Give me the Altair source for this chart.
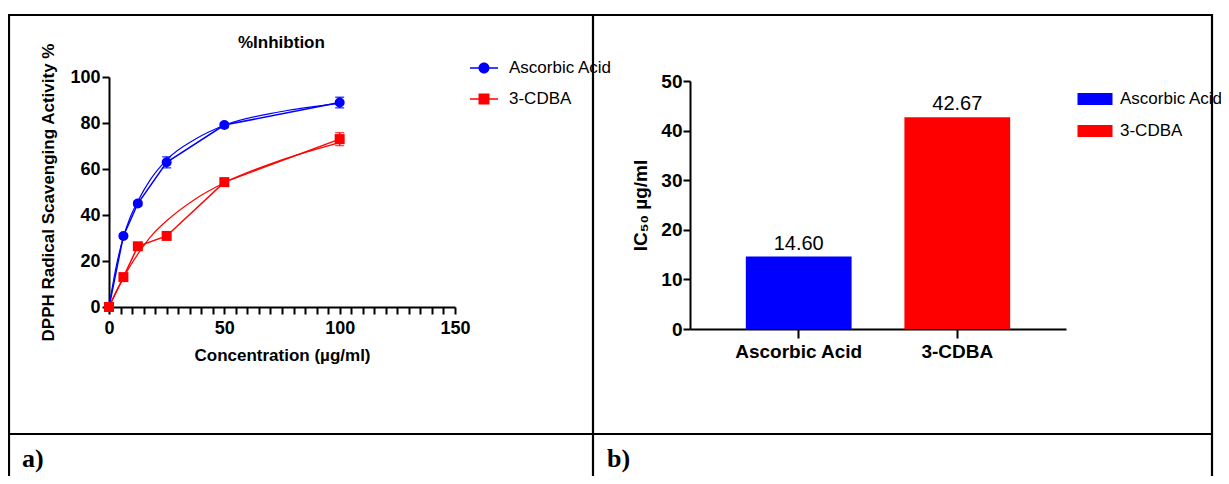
import altair as alt
import pandas as pd

# ---------------- data ----------------
series = ["Ascorbic Acid", "3-CDBA"]
colors = ["#0000FF", "#FF0000"]

conc = [0, 6.25, 12.5, 25, 50, 100]
aa_mean = [0, 30.9, 45.0, 62.9, 79.1, 88.9]
aa_err = [0.6, 0.8, 1.0, 2.4, 1.0, 2.3]
cdba_mean = [0, 13.0, 26.4, 30.9, 54.3, 73.0]
cdba_err = [0.6, 1.0, 1.0, 1.0, 1.3, 2.8]

fit_conc = [0, 3, 6.25, 9, 12.5, 18, 25, 37.5, 50, 75, 100]
aa_fit = [0, 17, 30.5, 38.5, 46, 55.5, 64, 73, 79, 85, 88.5]
cdba_fit = [0, 6.5, 12.5, 17.5, 23, 30.5, 37.5, 47, 54, 64, 71.5]

samples = ["Ascorbic Acid", "3-CDBA"]
ic50 = [14.60, 42.67]

x_ticks_left = list(range(0, 155, 5))
y_ticks_left = [0, 20, 40, 60, 80, 100]
y_ticks_right = [0, 10, 20, 30, 40, 50]

# ---------------- layout ----------------
W, H = 1213, 468
LX0, LX1 = 101, 447
LY0, LY1 = 299, 69
RX0, RX1 = 682, 1058
RY0, RY1 = 321, 73
FONT = "Liberation Sans"


def axis_style(**kw):
    base = dict(domainColor="black", domainWidth=2, tickColor="black", tickWidth=2,
                tickSize=7, labelFont=FONT, labelFontSize=18, labelFontWeight="bold",
                labelColor="black", titleFont=FONT, titleFontSize=17,
                titleFontWeight="bold", titleColor="black", grid=False, labelPadding=2,
                labelFlush=False)
    base.update(kw)
    return alt.Axis(**base)


xL_scale = alt.Scale(domain=[0, 150], range=[LX0, LX1], nice=False, zero=False)
yL_scale = alt.Scale(domain=[0, 100], range=[LY0, LY1], nice=False, zero=False)
xL_axis = axis_style(orient="bottom", offset=LY0 - H, values=x_ticks_left,
                     labelExpr="datum.value % 50 === 0 ? datum.label : ''",
                     labelOverlap=False, labelPadding=5,
                     title="Concentration (µg/ml)", titlePadding=10)
yL_axis = axis_style(orient="left", offset=-LX0, values=y_ticks_left,
                     title="DPPH Radical Scavenging Activity %", titlePadding=12)


def XL(field):
    return alt.X(field, type="quantitative", scale=xL_scale, axis=xL_axis)


def YL(field):
    return alt.Y(field, type="quantitative", scale=yL_scale, axis=yL_axis)


def series_layers(name, color, mean, err, fit, shape):
    df = pd.DataFrame({
        "conc": conc,
        "val": mean,
        "lo": [m - e for m, e in zip(mean, err)],
        "hi": [m + e for m, e in zip(mean, err)],
        "series": name,
    })
    fdf = pd.DataFrame({"conc": fit_conc, "val": fit})
    fit_line = alt.Chart(fdf).mark_line(color=color, strokeWidth=1.2, interpolate="monotone").encode(
        x=XL("conc"), y=YL("val"))
    line = alt.Chart(df).mark_line(color=color, strokeWidth=1.5).encode(x=XL("conc"), y=YL("val"))
    err_rule = alt.Chart(df).mark_rule(color=color, strokeWidth=1.5).encode(
        x=XL("conc"), y=YL("lo"), y2="hi")
    cap_lo = alt.Chart(df).mark_tick(color=color, orient="horizontal", size=9, thickness=1.5).encode(
        x=XL("conc"), y=YL("lo"))
    cap_hi = alt.Chart(df).mark_tick(color=color, orient="horizontal", size=9, thickness=1.5).encode(
        x=XL("conc"), y=YL("hi"))
    pts = alt.Chart(df).mark_point(filled=True, shape=shape, size=100, color=color, opacity=1).encode(
        x=XL("conc"), y=YL("val"))
    return [fit_line, line, err_rule, cap_lo, cap_hi, pts], df


aa_layers, aa_df = series_layers(series[0], colors[0], aa_mean, aa_err, aa_fit, "circle")
cd_layers, cd_df = series_layers(series[1], colors[1], cdba_mean, cdba_err, cdba_fit, "square")

LINE = "M-1.4,-0.075L1.4,-0.075L1.4,0.075L-1.4,0.075Z"
CIRC = "M-0.55,0A0.55,0.55 0 1,1 0.55,0A0.55,0.55 0 1,1 -0.55,0Z"
SQR = "M-0.55,-0.55L0.55,-0.55L0.55,0.55L-0.55,0.55Z"

leg_left = dict(orient="none", legendX=466, legendY=50, title=None, padding=0,
                symbolSize=400, symbolOpacity=1, symbolStrokeWidth=0, labelFont=FONT,
                labelFontSize=17, labelColor="black", labelOffset=15, rowPadding=13,
                labelLimit=400)

legend_layer = alt.Chart(pd.concat([aa_df, cd_df])).mark_point(filled=True, opacity=0).encode(
    x=XL("conc"), y=YL("val"),
    color=alt.Color("series:N", scale=alt.Scale(domain=series, range=colors),
                    legend=alt.Legend(**leg_left)),
    shape=alt.Shape("series:N", scale=alt.Scale(domain=series, range=[LINE + CIRC, LINE + SQR]),
                    legend=alt.Legend(**leg_left)),
)

left = alt.layer(*aa_layers, *cd_layers, legend_layer)

# ---------------- right panel ----------------
df_r = pd.DataFrame({"sample": samples, "ic50": ic50})
xR_scale = alt.Scale(domain=samples, range=[RX0, RX1], paddingInner=0.333, paddingOuter=0.352)
yR_scale = alt.Scale(domain=[0, 50], range=[RY0, RY1], nice=False, zero=False)
xR_axis = axis_style(orient="bottom", offset=RY0 - H, labelAngle=0, title=None, tickSize=9,
                     labelPadding=4, labelFontSize=19)
yR_axis = axis_style(orient="left", offset=-RX0, values=y_ticks_right, title="IC₅₀ µg/ml",
                     titlePadding=10, labelFontSize=19, titleFontSize=19, labelPadding=1)

RECT = "M-1.75,-0.6L1.75,-0.6L1.75,0.6L-1.75,0.6Z"
bars = alt.Chart(df_r).mark_bar().encode(
    x=alt.X("sample:N", sort=samples, scale=xR_scale, axis=xR_axis),
    y=alt.Y("ic50:Q", scale=yR_scale, axis=yR_axis),
    color=alt.Color("sample:N", scale=alt.Scale(domain=samples, range=colors),
                    legend=alt.Legend(orient="none", legendX=1077, legendY=81, title=None, padding=0,
                                      symbolType=RECT, symbolSize=400, symbolStrokeWidth=0,
                                      labelFont=FONT, labelFontSize=17, labelColor="black",
                                      labelOffset=15, rowPadding=14, labelLimit=400)),
)
bar_text = alt.Chart(df_r).mark_text(baseline="bottom", dy=-3, font=FONT, fontSize=20, color="black").encode(
    x=alt.X("sample:N", sort=samples, scale=xR_scale, axis=xR_axis),
    y=alt.Y("ic50:Q", scale=yR_scale, axis=yR_axis),
    text=alt.Text("ic50:Q", format=".2f"),
)
right = alt.layer(bars, bar_text)

# ---------------- table frame & captions ----------------
one = pd.DataFrame({"d": [0]})


def hline(y, x1, x2):
    return alt.Chart(one).mark_rule(color="black", strokeWidth=2.2).encode(
        x=alt.value(x1), x2=alt.value(x2), y=alt.value(y), y2=alt.value(y))


def vline(x, y1, y2):
    return alt.Chart(one).mark_rule(color="black", strokeWidth=2.2).encode(
        x=alt.value(x), x2=alt.value(x), y=alt.value(y1), y2=alt.value(y2))


frame = [hline(7, 0, 1205), hline(426, 0, 1205), vline(1, 6, H), vline(585, 6, H),
         vline(1204, 6, H)]


def caption(text, x):
    return alt.Chart(one).mark_text(align="left", baseline="alphabetic", font="Liberation Serif",
                                    fontSize=26, fontWeight="bold", color="black").encode(
        x=alt.value(x), y=alt.value(459), text=alt.value(text))


chart = alt.layer(left, right, *frame, caption("a)", 14), caption("b)", 599)).resolve_scale(
    x="independent", y="independent", color="independent", shape="independent"
).resolve_legend(color="independent", shape="independent").properties(
    width=W, height=H, padding=0,
    autosize=alt.AutoSizeParams(type="none"),
    background="white",
    title=alt.TitleParams(text="%Inhibtion", anchor="start", frame="group", orient="top",
                          dx=230, dy=57, offset=0, baseline="alphabetic", font=FONT,
                          fontSize=17, fontWeight="bold", color="black"),
).configure_view(stroke=None)

chart.save("out.html", embed_options={"renderer": "svg", "actions": False})
